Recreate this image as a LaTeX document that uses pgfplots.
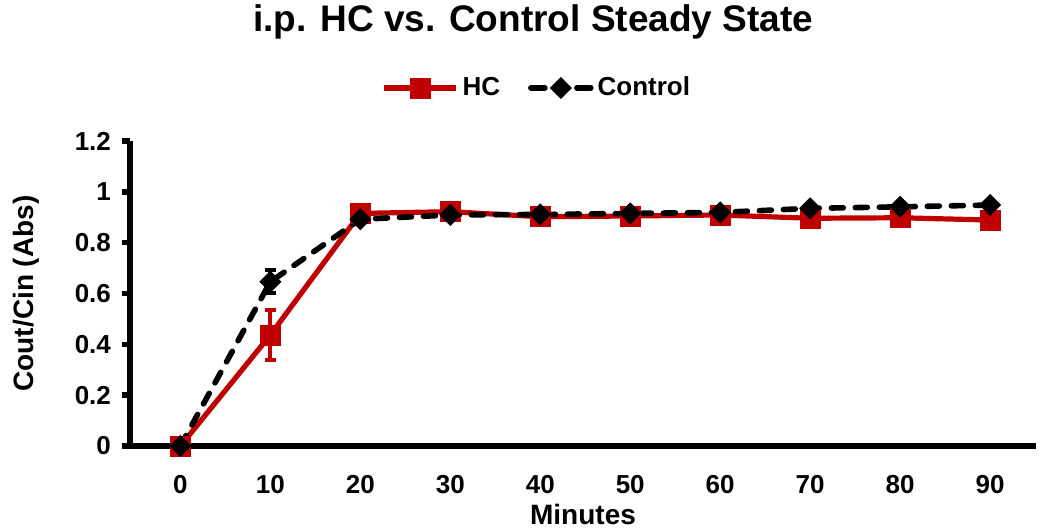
\documentclass[border=0pt]{standalone}
\usepackage{pgfplots}
\pgfplotsset{compat=1.18}
\usepackage{fontspec}
\setmainfont{Liberation Sans}
\definecolor{hcred}{RGB}{192,0,0}
\pgfplotsset{
    ctrllegend/.style={
        legend image code/.code={
            \draw[mark repeat=2, mark phase=2, ##1, dash pattern=on 7pt off 16pt]
                plot coordinates {(1pt,0pt) (16pt,0pt) (31pt,0pt)};}},
}

\begin{document}
\begin{tikzpicture}
\path[use as bounding box] (-65pt,-42.5pt) rectangle (458pt,223pt);
\begin{axis}[
    at={(0,0)}, anchor=south west,
    scale only axis,
    width=453pt, height=152.5pt,
    xmin=-5.6, xmax=95.1,
    ymin=0, ymax=1.2,
    clip=false,
    axis lines*=left,
    axis line style={line width=2.8pt, -},
    xtick={0,10,...,90},
    ytick={0,0.2,...,1.2},
    yticklabels={0,0.2,0.4,0.6,0.8,1,1.2},
    x tick style={draw=none},
    y tick style={line width=2.8pt, black},
    tick align=outside,
    major tick length=4pt,
    /pgf/number format/assume math mode=true,
    tick label style={font=\fontsize{13}{15}\selectfont\bfseries},
    xticklabel style={yshift=-7pt},
    yticklabel style={xshift=-2pt},
    title={i.p. HC vs. Control Steady State},
    title style={font=\fontsize{18.5}{22}\selectfont\bfseries,
        at={(0.445,1)}, anchor=base, yshift=49pt},
    xlabel={Minutes},
    ylabel={Cout/Cin (Abs)},
    every axis x label/.style={at={(axis description cs:0.5,-0.223)}, anchor=center,
        font=\fontsize{14}{17}\selectfont\bfseries},
    every axis y label/.style={at={(axis description cs:-0.114,0.5)}, rotate=90, anchor=center,
        font=\fontsize{14}{17}\selectfont\bfseries},
    legend columns=2,
    legend style={at={(0.45,1.174)}, anchor=center, draw=none,
        font=\fontsize{13}{15}\selectfont\bfseries,
        /tikz/every even column/.append style={column sep=12pt},
        /tikz/every node/.append style={inner xsep=2pt}},
    legend image code/.code={
        \draw[mark repeat=2, mark phase=2, #1]
            plot coordinates {(0pt,0pt) (18pt,0pt) (36pt,0pt)};},
]

\addplot[color=hcred, line width=2.6pt, mark=square*, mark size=5pt,
    mark options={solid, fill=hcred, line width=0.4pt},
    error bars/.cd, y dir=both, y explicit,
    error bar style={line width=2pt, solid, hcred},
    error mark options={rotate=90, mark size=2.8pt, line width=2pt, hcred}]
coordinates {
(0,0) +- (0,0.005)
(10,0.437) +- (0,0.098)
(20,0.915) +- (0,0.01)
(30,0.922) +- (0,0.01)
(40,0.902) +- (0,0.01)
(50,0.905) +- (0,0.01)
(60,0.909) +- (0,0.01)
(70,0.896) +- (0,0.01)
(80,0.898) +- (0,0.01)
(90,0.889) +- (0,0.01)
};
\addlegendentry{HC}

\addplot[color=black, line width=2.8pt, dash pattern=on 6pt off 6pt, line cap=round,
    mark=square*, mark size=3.7pt,
    mark options={solid, rotate=45, fill=black, line width=0.4pt},
    ctrllegend,
    error bars/.cd, y dir=both, y explicit,
    error bar style={line width=2pt, solid, black},
    error mark options={rotate=90, mark size=2.8pt, line width=2pt, black},
    ]
coordinates {
(0,0) +- (0,0.005)
(10,0.646) +- (0,0.045)
(20,0.892) +- (0,0.01)
(30,0.909) +- (0,0.01)
(40,0.911) +- (0,0.01)
(50,0.915) +- (0,0.01)
(60,0.919) +- (0,0.01)
(70,0.935) +- (0,0.01)
(80,0.941) +- (0,0.01)
(90,0.948) +- (0,0.01)
};
\addlegendentry{Control}

\end{axis}
\end{tikzpicture}
\end{document}
